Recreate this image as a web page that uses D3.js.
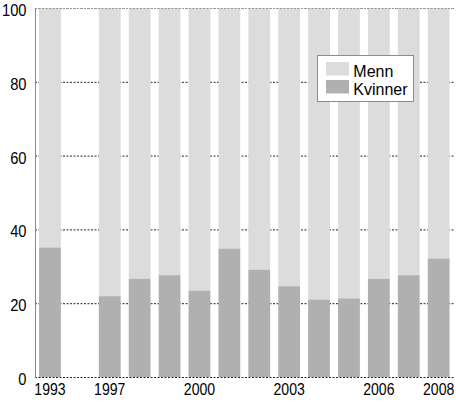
<!DOCTYPE html>
<html>
<head>
<meta charset="utf-8">
<script src="https://cdn.jsdelivr.net/npm/d3@7"></script>
<style>
  body { margin: 0; background: #fff; }
  svg { display: block; font-family: "Liberation Sans", Arial, sans-serif; }
</style>
</head>
<body>
<div class="chart"></div>
<script>
// one slot per category, the empty slot is the gap for 1994-1996
var categories = ['1993', 'gap', '1997', '1998', '1999', '2000', '2001', '2002', '2003', '2004', '2005', '2006', '2007', '2008'];
var kvinner = [35.1, null, 21.9, 26.6, 27.6, 23.4, 34.8, 29.1, 24.6, 21.0, 21.3, 26.6, 27.6, 32.1];
var menn = [64.9, null, 78.1, 73.4, 72.4, 76.6, 65.2, 70.9, 75.4, 79.0, 78.7, 73.4, 72.4, 67.9];
var xTickLabels = ['1993', '1997', '2000', '2003', '2006', '2008'];
var yTicks = [0, 20, 40, 60, 80, 100];
var seriesNames = ['Menn', 'Kvinner'];

var width = 456,
    height = 402,
    margin = { top: 8, right: 2.4, bottom: 25, left: 35 },
    mennColor = '#dcdcdc',
    kvinnerColor = '#b0b0b0',
    textColor = '#000';

var svg = d3.select('.chart').append('svg')
    .attr('width', width)
    .attr('height', height);

var x = d3.scaleBand()
    .domain(categories)
    .range([margin.left, width - margin.right])
    .paddingInner(0.27)
    .paddingOuter(0.135);

var y = d3.scaleLinear()
    .domain([0, 100])
    .range([height - margin.bottom, margin.top]);

// dotted grid lines
svg.append('g')
    .attr('class', 'grid')
    .selectAll('line')
    .data(yTicks)
    .enter().append('line')
    .attr('x1', margin.left)
    .attr('x2', width - margin.right)
    .attr('y1', function (d) { return y(d) + 0.5; })
    .attr('y2', function (d) { return y(d) + 0.5; })
    .attr('stroke', '#222')
    .attr('stroke-width', 1)
    .attr('stroke-dasharray', '2,1.5');

var rows = categories.map(function (c, i) {
    return { cat: c, k: kvinner[i], m: menn[i] };
}).filter(function (d) { return d.k !== null; });

var bars = svg.append('g').attr('class', 'bars');

bars.selectAll('rect.menn')
    .data(rows)
    .enter().append('rect')
    .attr('class', 'menn')
    .attr('x', function (d) { return x(d.cat); })
    .attr('width', x.bandwidth())
    .attr('y', function (d) { return y(d.k + d.m); })
    .attr('height', function (d) { return y(d.k) - y(d.k + d.m); })
    .attr('fill', mennColor);

bars.selectAll('rect.kvinner')
    .data(rows)
    .enter().append('rect')
    .attr('class', 'kvinner')
    .attr('x', function (d) { return x(d.cat); })
    .attr('width', x.bandwidth())
    .attr('y', function (d) { return y(d.k); })
    .attr('height', function (d) { return y(0) - y(d.k); })
    .attr('fill', kvinnerColor);

// top line drawn over the bars
svg.append('line')
    .attr('x1', margin.left)
    .attr('x2', width - margin.right)
    .attr('y1', y(100) + 0.5)
    .attr('y2', y(100) + 0.5)
    .attr('stroke', '#999')
    .attr('stroke-dasharray', '2,1.5');

// left axis line
svg.append('line')
    .attr('x1', margin.left + 0.5)
    .attr('x2', margin.left + 0.5)
    .attr('y1', y(100))
    .attr('y2', y(0) + 1)
    .attr('stroke', '#888');

// tick labels are a bit narrower than the legend text
var yAxis = d3.axisLeft(y).tickValues(yTicks).tickSize(0).tickPadding(0);
var yG = svg.append('g')
    .attr('transform', 'translate(' + (margin.left - 8.5) + ',0)')
    .call(yAxis);
yG.select('.domain').remove();
yG.selectAll('text')
    .attr('x', 0)
    .attr('dy', '0.47em')
    .attr('font-size', 16)
    .attr('fill', textColor)
    .attr('font-family', 'Liberation Sans, Arial, sans-serif')
    .attr('transform', 'scale(0.92,1)');

var xAxis = d3.axisBottom(x).tickValues(xTickLabels).tickSize(0).tickPadding(6.6);
var xG = svg.append('g')
    .attr('transform', 'translate(0,' + y(0) + ')')
    .call(xAxis);
xG.select('.domain').remove();
xG.selectAll('text')
    .attr('font-size', 16)
    .attr('fill', textColor)
    .attr('font-family', 'Liberation Sans, Arial, sans-serif')
    .attr('transform', 'scale(0.88,1)');

// legend
var legend = svg.append('g')
    .attr('class', 'legend')
    .attr('transform', 'translate(317.5,55.5)');

legend.append('rect')
    .attr('width', 96)
    .attr('height', 46)
    .attr('fill', '#fff')
    .attr('stroke', '#8c8c8c');

var items = legend.selectAll('g.item')
    .data(seriesNames)
    .enter().append('g')
    .attr('class', 'item')
    .attr('transform', function (d, i) { return 'translate(8.5,' + (6.5 + i * 18) + ')'; });

items.append('rect')
    .attr('width', 23)
    .attr('height', 13.5)
    .attr('fill', function (d, i) { return i === 0 ? mennColor : kvinnerColor; });

items.append('text')
    .text(function (d) { return d; })
    .attr('x', 27.3)
    .attr('y', 15)
    .attr('font-size', 16)
    .attr('fill', textColor);
</script>
</body>
</html>
